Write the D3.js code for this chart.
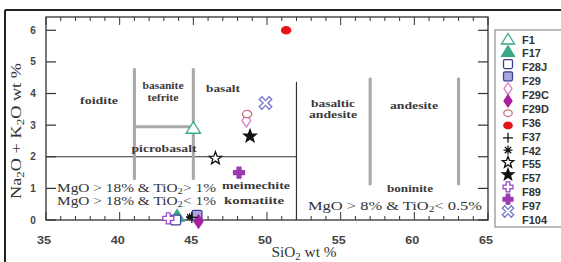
<!DOCTYPE html>
<html><head><meta charset="utf-8">
<script src="https://cdn.jsdelivr.net/npm/d3@7"></script>
<style>body{margin:0;background:#fff;} svg{display:block;}</style>
</head><body>
<svg id="c" width="561" height="262"></svg>
<script>
// ---- data ----
const sampleNames = ["F1","F17","F28J","F29","F29C","F29D","F36","F37","F42","F55","F57","F89","F97","F104"];
const sio2   = [45.0, 43.9, 43.8, 45.25, 48.6, 45.35, 48.65, 51.3, 44.9, 46.5, 48.85, 43.3, 48.1, 49.9];
const alkali = [2.9, 0.12, 0.0, 0.15, 3.15, -0.05, 3.35, 6.0, 0.08, 1.95, 2.65, 0.05, 1.5, 3.7];
const pointSymbols = ["triOpen","triFill","sqOpen","sqFill","diaOpen","diaFill","ellOpen","ellFill","plus","starOpen","starFill","crossOpen","crossFill","xcross"];
const legendSymbols = ["triOpen","triFill","sqOpen","sqFill","diaOpen","diaFill","ellOpen","ellFill","plus","asterisk","starOpen","starFill","crossOpen","crossFill","xcross"];
const xTicks = [35,40,45,50,55,60,65];
const yTicks = [0,1,2,3,4,5,6];
const extraPoint = {x:44.75, y:0.1, sym:"asterisk"};

const symStyle = {
  triOpen:{fill:"#fff",stroke:"#3aa888"}, triFill:{fill:"#3aa888",stroke:"#3aa888"},
  sqOpen:{fill:"#fff",stroke:"#3b3f98"}, sqFill:{fill:"#a9a7dc",stroke:"#3b3f98"},
  diaOpen:{fill:"#fff",stroke:"#d97cc8"}, diaFill:{fill:"#a8209e",stroke:"#a8209e"},
  ellOpen:{fill:"#fff",stroke:"#c8707a"}, ellFill:{fill:"#e8121a",stroke:"#e8121a"},
  plus:{fill:"none",stroke:"#111"}, asterisk:{fill:"none",stroke:"#111"},
  starOpen:{fill:"#fff",stroke:"#111"}, starFill:{fill:"#111",stroke:"#111"},
  crossOpen:{fill:"#fff",stroke:"#9a48c8"}, crossFill:{fill:"#9b3ab0",stroke:"#9b3ab0"},
  xcross:{fill:"#fff",stroke:"#7476cc"}
};

const svg = d3.select("#c");
const x = d3.scaleLinear().domain([35,65]).range([46,488]);
const y = d3.scaleLinear().domain([0,6.42]).range([220,17]);

// outer frame
svg.append("line").attr("x1",5).attr("x2",561).attr("y1",10).attr("y2",10).attr("stroke","#222").attr("stroke-width",2);
svg.append("line").attr("x1",5).attr("x2",5).attr("y1",10).attr("y2",262).attr("stroke","#222").attr("stroke-width",2);

// plot frame
const g = svg.append("g");
g.append("rect").attr("x",x(35)).attr("y",y(6.42)).attr("width",x(65)-x(35)).attr("height",y(0)-y(6.42))
 .attr("fill","none").attr("stroke","#333").attr("stroke-width",1.3);

// ticks
const minor = d3.range(35,66,1);
minor.forEach(v=>{
  const L = v%5===0 ? 8 : 4;
  g.append("line").attr("x1",x(v)).attr("x2",x(v)).attr("y1",y(0)).attr("y2",y(0)-L).attr("stroke","#333").attr("stroke-width",1);
  g.append("line").attr("x1",x(v)).attr("x2",x(v)).attr("y1",y(6.42)).attr("y2",y(6.42)+L).attr("stroke","#333").attr("stroke-width",1);
});
yTicks.forEach(v=>{
  g.append("line").attr("x1",x(35)).attr("x2",x(35)+10).attr("y1",y(v)).attr("y2",y(v)).attr("stroke","#333").attr("stroke-width",1.2);
  g.append("line").attr("x1",x(65)).attr("x2",x(65)-10).attr("y1",y(v)).attr("y2",y(v)).attr("stroke","#333").attr("stroke-width",1.2);
});
const tickFont = "'Liberation Sans', Arial, sans-serif";
xTicks.forEach(v=>{
  g.append("text").attr("x",x(v)-2).attr("y",244).attr("text-anchor","middle").attr("font-family",tickFont)
   .attr("font-weight","bold").attr("font-size",10).attr("fill","#444").attr("textLength",14).attr("lengthAdjust","spacingAndGlyphs").text(v);
});
yTicks.forEach(v=>{
  g.append("text").attr("x",33).attr("y",y(v)+3.5).attr("text-anchor","middle").attr("font-family",tickFont)
   .attr("font-weight","bold").attr("font-size",10).attr("fill","#444").text(v);
});

// boundary lines
const blk = "#333";
function ln(x1,y1,x2,y2,col,w){ g.append("line").attr("x1",x(x1)).attr("y1",y(y1)).attr("x2",x(x2)).attr("y2",y(y2)).attr("stroke",col).attr("stroke-width",w); }
ln(35,2,52,2,blk,1.2);
ln(52,0,52,4.37,blk,1.2);
const gry = "#a8a8a8";
ln(41,1.27,41,4.8,gry,3);
ln(45,1.27,45,4.8,gry,3);
ln(41,2.95,45,2.95,gry,3);
ln(57,1.1,57,4.5,gry,3);
ln(63,1.1,63,4.5,gry,3);

// region labels
const serif = "'Liberation Serif','Times New Roman',serif";
function lab(txt,px,py,w){
  return g.append("text").attr("x",px).attr("y",py).attr("font-family",serif).attr("font-size",10.5)
    .attr("font-weight","bold").attr("fill","#3a3a3a").attr("text-anchor","middle")
    .attr("textLength",w).attr("lengthAdjust","spacingAndGlyphs").text(txt);
}
lab("foidite",99,104,38);
lab("basanite",163,89,41);
lab("tefrite",163,101,31);
lab("basalt",223,92,34);
lab("picrobasalt",164,152,65);
lab("basaltic",333,107,44);
lab("andesite",333,118,48);
lab("andesite",414,109,48);
lab("meimechite",256,189,68);
lab("komatiite",254,204,60);
lab("boninite",410,192,46);
function mgo(px,py,a,b,w){
  const t = g.append("text").attr("x",px).attr("y",py).attr("font-family",serif).attr("font-size",11.5).attr("fill","#333")
    .attr("textLength",w).attr("lengthAdjust","spacingAndGlyphs");
  t.append("tspan").text(a);
  t.append("tspan").attr("font-size",8).attr("dy",2).text("2");
  t.append("tspan").attr("dy",-2).text(b);
}
mgo(57,192,"MgO > 18% & TiO","> 1%",159);
mgo(57,205,"MgO > 18% & TiO","< 1%",159);
mgo(308,210,"MgO > 8% & TiO","< 0.5%",174);

// axis titles
const xt = svg.append("text").attr("x",304).attr("y",257).attr("text-anchor","middle").attr("font-family",serif).attr("font-size",14).attr("fill","#333")
  .attr("textLength",65).attr("lengthAdjust","spacingAndGlyphs");
xt.append("tspan").text("SiO");
xt.append("tspan").attr("font-size",10).attr("dy",3).text("2");
xt.append("tspan").attr("dy",-3).text(" wt %");
const yt = svg.append("text").attr("transform","translate(21,131) rotate(-90)").attr("text-anchor","middle").attr("font-family",serif).attr("font-size",14).attr("fill","#333")
  .attr("textLength",136).attr("lengthAdjust","spacingAndGlyphs");
yt.append("tspan").text("Na");
yt.append("tspan").attr("font-size",10).attr("dy",3).text("2");
yt.append("tspan").attr("dy",-3).text("O + K");
yt.append("tspan").attr("font-size",10).attr("dy",3).text("2");
yt.append("tspan").attr("dy",-3).text("O wt %");

// symbols
function drawSym(parent,sym,cx,cy,s){
  const st = symStyle[sym];
  const gg = parent.append("g").attr("transform",`translate(${cx},${cy})`);
  const sw = 1.3;
  let p;
  switch(sym){
    case "triOpen": case "triFill":
      p = gg.append("path").attr("d",`M0,${-s*0.6}L${s*0.65},${s*0.45}L${-s*0.65},${s*0.45}Z`); break;
    case "sqOpen": case "sqFill":
      p = gg.append("rect").attr("x",-s*0.45).attr("y",-s*0.45).attr("width",s*0.9).attr("height",s*0.9).attr("rx",1.5); break;
    case "diaOpen": case "diaFill":
      p = gg.append("path").attr("d",`M0,${-s*0.6}L${s*0.4},0L0,${s*0.6}L${-s*0.4},0Z`); break;
    case "ellOpen": case "ellFill":
      p = gg.append("ellipse").attr("rx",s*0.42).attr("ry",s*0.33); break;
    case "plus":
      p = gg.append("path").attr("d",`M${-s*0.5},0H${s*0.5}M0,${-s*0.5}V${s*0.5}`); break;
    case "asterisk": {
      let d=""; for(let i=0;i<4;i++){const a=i*Math.PI/4; d+=`M${-Math.cos(a)*s*0.45},${-Math.sin(a)*s*0.45}L${Math.cos(a)*s*0.45},${Math.sin(a)*s*0.45}`;}
      p = gg.append("path").attr("d",d); break; }
    case "starOpen": case "starFill": {
      const pts=[]; for(let i=0;i<10;i++){const r=i%2?s*0.25:s*0.6; const a=-Math.PI/2+i*Math.PI/5; pts.push([Math.cos(a)*r,Math.sin(a)*r]);}
      p = gg.append("path").attr("d","M"+pts.join("L")+"Z"); break; }
    case "crossOpen": case "crossFill": {
      const a=s*0.18,b=s*0.5;
      p = gg.append("path").attr("d",`M${-a},${-b}H${a}V${-a}H${b}V${a}H${a}V${b}H${-a}V${a}H${-b}V${-a}H${-a}Z`).attr("stroke-linejoin","round"); break; }
    case "xcross": {
      const q=s*0.12,r=s*0.45;
      p = gg.append("path").attr("d",`M0,${-q*1.8}L${r-q},${-r-q}L${r+q},${-r+q}L${q*1.8},0L${r+q},${r-q}L${r-q},${r+q}L0,${q*1.8}L${-r+q},${r+q}L${-r-q},${r-q}L${-q*1.8},0L${-r-q},${-r+q}L${-r+q},${-r-q}Z`); break; }
  }
  p.attr("fill",st.fill).attr("stroke",st.stroke).attr("stroke-width",sw);
}

const pg = g.append("g");
sampleNames.forEach((n,i)=>{ drawSym(pg,pointSymbols[i],x(sio2[i]),y(alkali[i]),11); });
drawSym(pg,extraPoint.sym,x(extraPoint.x),y(extraPoint.y),8);

// legend
const lg = svg.append("g");
lg.append("rect").attr("x",495).attr("y",30).attr("width",80).attr("height",197).attr("fill","#fff").attr("stroke","#777").attr("stroke-width",1);
const symY = d3.scaleLinear().domain([0,legendSymbols.length-1]).range([39.5,211.5]);
legendSymbols.forEach((s,i)=>drawSym(lg,s,508,symY(i),10));
const labY = d3.scaleLinear().domain([0,sampleNames.length-1]).range([39.5,220]);
sampleNames.forEach((n,i)=>{
  lg.append("text").attr("x",522).attr("y",labY(i)+4).attr("font-family",tickFont).attr("font-weight","bold")
    .attr("font-size",11).attr("fill","#333").text(n);
});
</script>
</body></html>
